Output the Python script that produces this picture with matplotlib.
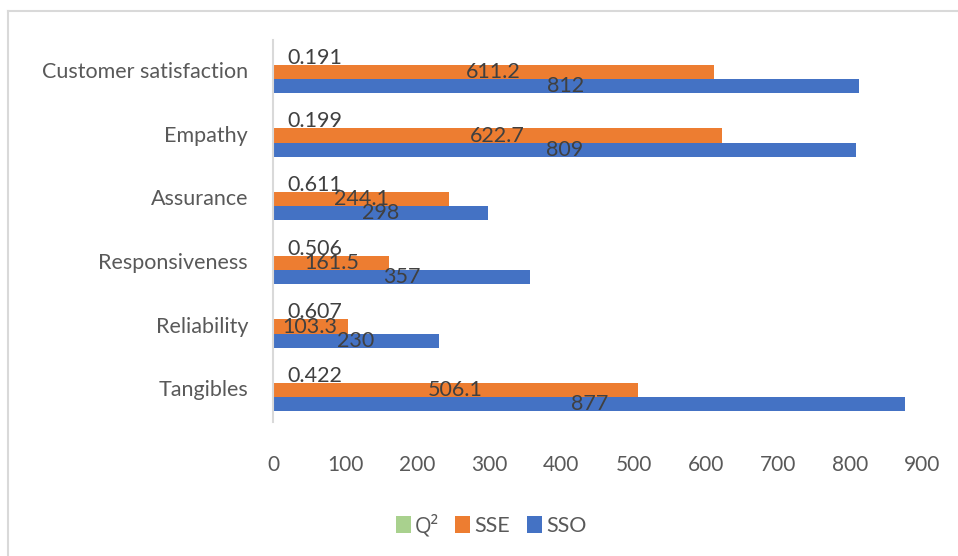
import matplotlib
matplotlib.use('Agg')
import matplotlib.pyplot as plt
import numpy as np

categories = ["Tangibles", "Reliability", "Responsiveness", "Assurance", "Empathy", "Customer satisfaction"]
q2 = [0.422, 0.607, 0.506, 0.611, 0.199, 0.191]
sse = [506.1, 103.3, 161.5, 244.1, 622.7, 611.2]
sso = [877, 230, 357, 298, 809, 812]
q2_labels = ["0.422", "0.607", "0.506", "0.611", "0.199", "0.191"]
sse_labels = ["506.1", "103.3", "161.5", "244.1", "622.7", "611.2"]
sso_labels = ["877", "230", "357", "298", "809", "812"]

plt.rcParams['font.family'] = ['Lato', 'DejaVu Sans']

fig = plt.figure(figsize=(9.58, 5.56), dpi=100)
ax = fig.add_axes([0.285, 1 - 422 / 556, 0.6774, (422 - 40) / 556])

y = np.arange(len(categories))
h = 0.22
b_sso = ax.barh(y - h, sso, height=h, color='#4472C4', label='SSO')
b_sse = ax.barh(y, sse, height=h, color='#ED7D31', label='SSE')
b_q2 = ax.barh(y + h, q2, height=h, color='#A9D18E', label='Q²')

lab_col = '#404040'
for i in range(len(categories)):
    ax.text(sso[i] / 2, y[i] - h, sso_labels[i], ha='center', va='center', fontsize=15.5, color=lab_col)
    ax.text(sse[i] / 2, y[i], sse_labels[i], ha='center', va='center', fontsize=15.5, color=lab_col)
    ax.text(20, y[i] + h, q2_labels[i], ha='left', va='center', fontsize=15.5, color=lab_col)

ax.set_xlim(0, 900)
ax.set_ylim(-0.5, len(categories) - 0.5)
ax.set_xticks(np.arange(0, 901, 100))
ax.set_yticks(y + 0.03)
ax.set_yticklabels(categories)
ax.tick_params(axis='x', length=0, pad=24, labelsize=15, labelcolor='#595959')
ax.tick_params(axis='y', length=0, pad=18, labelsize=15.5, labelcolor='#595959')
for s in ['top', 'right', 'bottom']:
    ax.spines[s].set_visible(False)
ax.spines['left'].set_color('#D9D9D9')
ax.spines['left'].set_linewidth(1.5)

handles = [b_q2, b_sse, b_sso]
leg = fig.legend(handles, ['Q²', 'SSE', 'SSO'], loc='center', bbox_to_anchor=(0.5125, 0.054), ncol=3,
                 frameon=False, fontsize=15.5, labelcolor='#595959', handlelength=0.7, handleheight=0.85,
                 handletextpad=0.2, columnspacing=0.75)
leg.get_texts()[0].set_family(['Open Sans', 'DejaVu Sans'])

# border (only left and top edges are visible in the frame)
fig.add_artist(plt.Line2D([7.5 / 958, 7.5 / 958], [0, 1 - 11 / 556], color='#D9D9D9', lw=1.5))
fig.add_artist(plt.Line2D([7.5 / 958, 1], [1 - 11 / 556, 1 - 11 / 556], color='#D9D9D9', lw=1.5))

fig.savefig('out.png', dpi=100)
